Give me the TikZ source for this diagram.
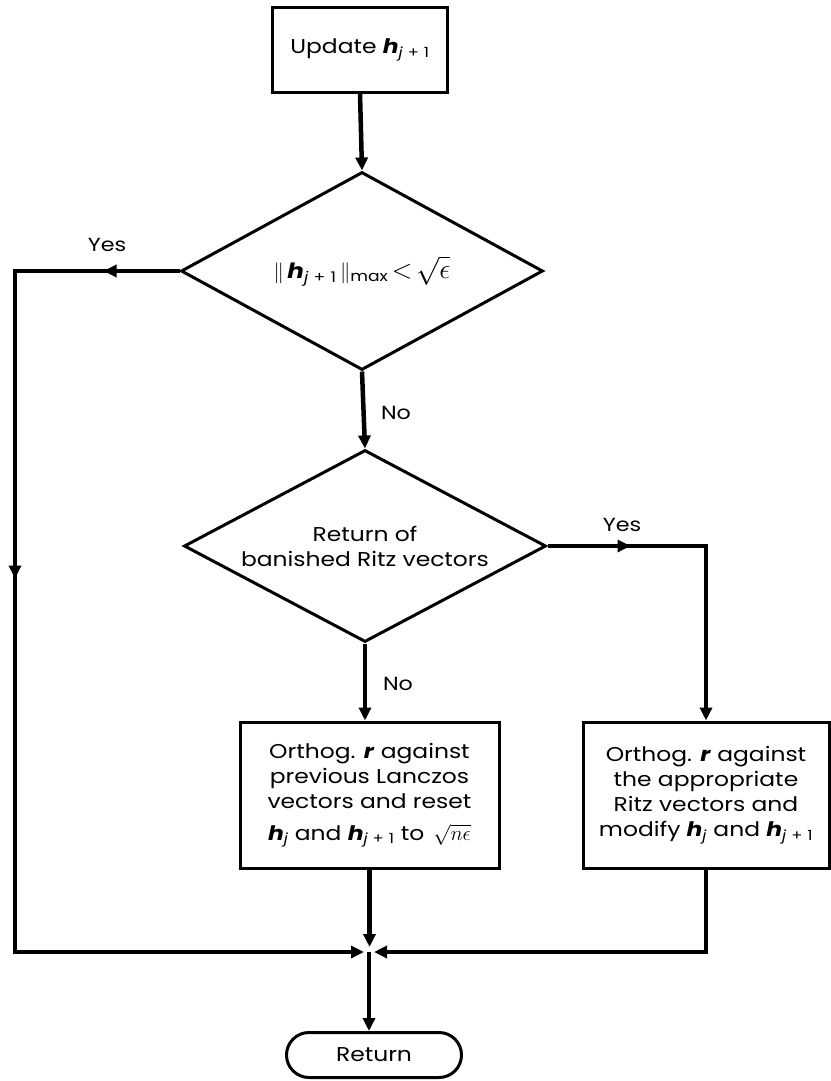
\documentclass[tikz,border=0pt]{standalone}
\usepackage{fontspec}
\setmainfont{Poppins}[FakeStretch=1.17]
\usetikzlibrary{arrows.meta,shapes.geometric,shapes.misc,decorations.markings}

% bold italic vector symbol with a subscript
\newcommand\hvec[1]{\textbf{\textit{h}}\textsubscript{#1}}
\newcommand\jplus{\textit{j}\hspace{0.35em}+\hspace{0.35em}1}
\newcommand\rvec{\textbf{\textit{r}}}
\newcommand\rootof[2]{\scalebox{#1}{$\sqrt{#2}$}}

\tikzset{
  outline/.style={draw, line width=3pt},
  txt/.style={font=\fontsize{20}{25}\selectfont, align=center},
  procbox/.style={outline, txt, rectangle, inner sep=0pt},
  decision/.style={outline, txt, diamond, inner sep=0pt},
  terminal/.style={outline, txt, rounded rectangle, inner sep=0pt},
  tip/.style={-{Triangle[length=13pt,width=12pt]}},
  conn/.style={line width=4.5pt, tip},
  lbl/.style={font=\fontsize{19}{22}\selectfont, inner sep=0pt},
}

\begin{document}
\begin{tikzpicture}[x=1pt,y=-1pt]
  \useasboundingbox (0,0) rectangle (830,1081);

  % process steps and decisions
  \node[procbox, minimum width=175pt, minimum height=84pt] (upd) at (360,50) {\raisebox{-5pt}{Update \hvec{\jplus}}};
  \node[decision, aspect=1.83, minimum width=362pt, minimum height=198pt, font=\fontsize{21}{25}\selectfont] (test) at (362,271)
    {$\|$\,\hvec{\jplus}\,$\|$\textsubscript{max}\,\scalebox{1.3}{$<$}\,\rootof{1.35}{\epsilon}};
  \node[decision, aspect=1.88, minimum width=362pt, minimum height=192pt] (ritz) at (365,546)
    {Return of\\banished Ritz vectors};
  \node[procbox, minimum width=259pt, minimum height=146pt] (lanc) at (369.5,795)
    {Orthog. \rvec{} against\\previous Lanczos\\vectors and reset\\[7pt]\hvec{\textit{j}} and \hvec{\jplus}\ to\hspace{0.45em}\rootof{1.0}{n\epsilon}};
  \node[procbox, minimum width=246pt, minimum height=146pt] (appr) at (706,795)
    {Orthog. \rvec{} against\\the appropriate\\Ritz vectors and\\modify \hvec{\textit{j}} and \hvec{\jplus}};
  \node[terminal, minimum width=175pt, minimum height=45pt] (ret) at (374,1055) {Return};

  % branch labels
  \node[lbl] (yes1) at (107,245) {Yes};
  \node[lbl] (no1) at (396,413) {No};
  \node[lbl] (yes2) at (622,525) {Yes};
  \node[lbl] (no2) at (398,684) {No};

  % corner points of the routed connectors
  \coordinate (jn) at (369,952);
  \coordinate (lt) at (15,271);
  \coordinate (lb) at (15,952);

  % connectors
  \draw[conn] (upd.south) -- (test.north);
  \draw[conn] (test.south) -- (ritz.north);
  \draw[conn] (ritz.south) -- (ritz.south |- lanc.north);
  \draw[conn, shorten >=5pt, postaction={decorate}, decoration={markings,
      mark=at position 76pt with {\arrow{Triangle[length=13pt,width=12pt]}},
      mark=at position 472pt with {\arrow{Triangle[length=13pt,width=12pt]}}}]
    (test.west) -- (lt) -- (lb) -- (jn);
  \draw[conn, postaction={decorate}, decoration={markings,
      mark=at position 83pt with {\arrow{Triangle[length=13pt,width=12pt]}}}]
    (ritz.east) -- (appr.north |- ritz.east) -- (appr.north);
  \draw[conn, shorten >=5pt] (lanc.south) -- (lanc.south |- jn);
  \draw[conn, shorten >=5pt] (appr.south) -- (appr.south |- jn) -- (jn);
  \draw[conn] (jn) -- (jn |- ret.north);
\end{tikzpicture}
\end{document}
